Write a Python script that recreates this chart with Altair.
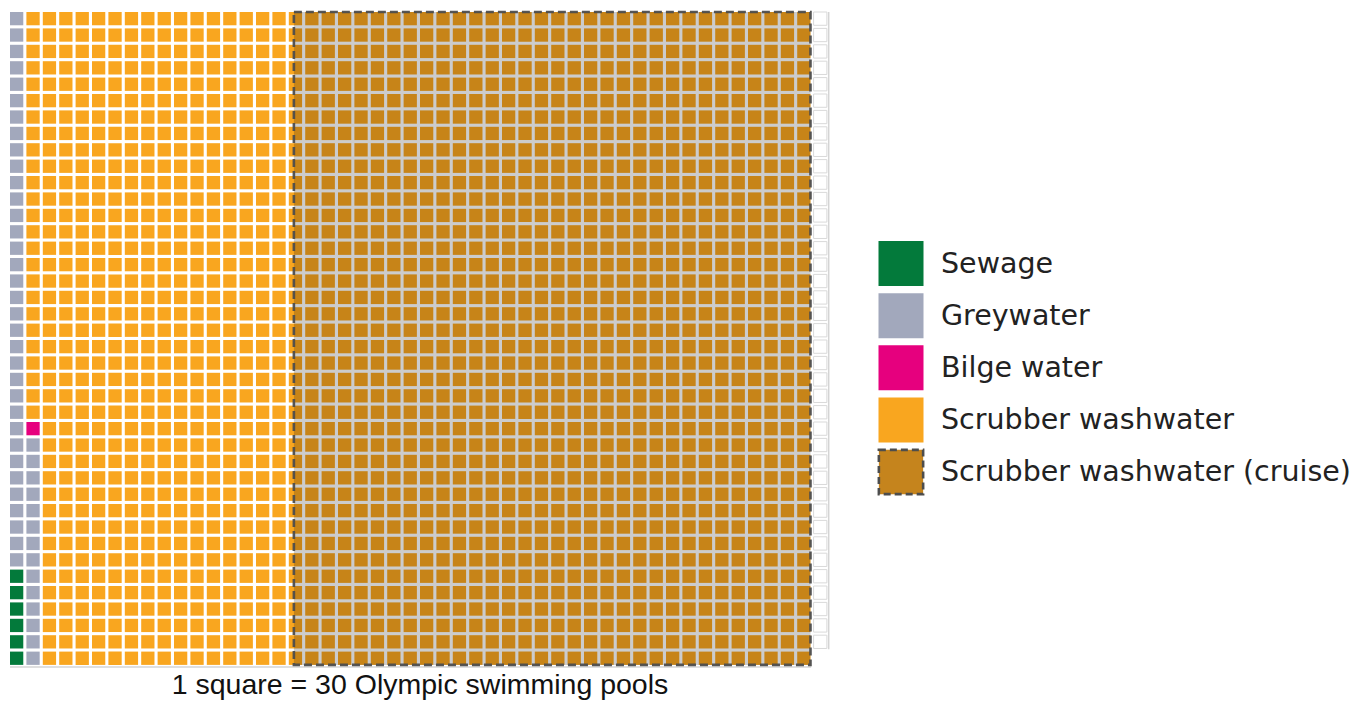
import altair as alt
import pandas as pd

# Waffle categories in fill order (column by column, from the bottom-left cell upward)
categories = ["Sewage", "Greywater", "Bilge water", "Scrubber washwater"]
squares = [6, 48, 1, 1905]
colors = ["#037a3b", "#a2a8bc", "#e6007e", "#f9a61f"]

# Share of the scrubber washwater that comes from cruise ships
cruise_label = "Scrubber washwater (cruise)"
cruise_squares = 1260
cruise_color = "#c5841d"

# Unused cells left in the last column
blank_squares = 39

n_rows = 40
n_cols = 50
caption = "1 square = 30 Olympic swimming pools"

CELL = 0.81  # fraction of a grid step covered by a square
STEP = 16.4  # pixels per grid step

# ---- cell table -----------------------------------------------------------
records = []
i = 0
for cat, n in zip(categories, squares):
    for _ in range(n):
        col, row = divmod(i, n_rows)
        records.append({"category": cat, "col": col, "row": row})
        i += 1
filled_cols = i // n_rows
for k in range(blank_squares):
    records.append({"category": "blank", "col": filled_cols, "row": n_rows - 1 - k})
cells = pd.DataFrame(records)
cells["col2"] = cells["col"] + CELL
cells["row1"] = cells["row"] + (1 - CELL)
cells["row2"] = cells["row"] + 1

right_edge = filled_cols - (1 - CELL)
cruise = pd.DataFrame([{
    "x": right_edge - cruise_squares / n_rows,
    "x2": right_edge,
    "y": 1 - CELL,
    "y2": n_rows,
}])

W = n_cols * STEP
H = n_rows * STEP

xs = alt.Scale(domain=[0, n_cols], nice=False, zero=False)
ys = alt.Scale(domain=[0, n_rows], nice=False, zero=False)

base = alt.Chart(cells)

filled = base.transform_filter(alt.datum.category != "blank").mark_rect().encode(
    x=alt.X("col:Q", scale=xs, axis=None),
    x2="col2:Q",
    y=alt.Y("row1:Q", scale=ys, axis=None),
    y2="row2:Q",
    color=alt.Color("category:N", scale=alt.Scale(domain=categories, range=colors), legend=None),
)

blank = base.transform_filter(alt.datum.category == "blank").mark_rect(
    fill="white", stroke="#d9d9d9", strokeWidth=1
).encode(
    x=alt.X("col:Q", scale=xs, axis=None),
    x2="col2:Q",
    y=alt.Y("row1:Q", scale=ys, axis=None),
    y2="row2:Q",
)

# faint edge lines under the filled block and beside the blank column
edges = pd.DataFrame([
    {"x": 0.0, "x2": right_edge + 0.04, "y": 0.06, "y2": 0.06},
    {"x": n_cols - 0.08, "x2": n_cols - 0.08, "y": 1.15, "y2": n_rows},
])
edge_rules = alt.Chart(edges).mark_rule(color="#d4d4d4", strokeWidth=1.5).encode(
    x=alt.X("x:Q", scale=xs, axis=None), x2="x2:Q",
    y=alt.Y("y:Q", scale=ys, axis=None), y2="y2:Q",
)

cruise_box = alt.Chart(cruise).mark_rect(
    fill="black", fillOpacity=0.2, stroke="#4d4d4d", strokeOpacity=0.95,
    strokeWidth=2.6, strokeDash=[8, 4]
).encode(
    x=alt.X("x:Q", scale=xs, axis=None), x2="x2:Q",
    y=alt.Y("y:Q", scale=ys, axis=None), y2="y2:Q",
)

caption_text = alt.Chart(pd.DataFrame({"text": [caption]})).mark_text(
    font="Liberation Sans", fontSize=28.5, color="#111", align="center", baseline="alphabetic"
).encode(
    x=alt.datum(n_cols / 2, scale=xs),
    y=alt.value(H + 26),
    text="text:N",
)

waffle = alt.layer(filled, blank, edge_rules, cruise_box, caption_text).properties(width=W, height=H)

# ---- legend panel ---------------------------------------------------------
labels = categories + [cruise_label]
legend_df = pd.DataFrame({"label": labels, "color": colors + [cruise_color]})
ly = alt.Y(
    "label:N", sort=labels,
    scale=alt.Scale(type="point", range=[251.5, 460], padding=0),
    axis=None,
)

solid_sw = alt.Chart(legend_df).transform_filter(alt.datum.label != cruise_label).mark_square(
    size=2025, opacity=1
).encode(x=alt.value(51), y=ly, color=alt.Color("color:N", scale=None))

cruise_sw = alt.Chart(legend_df).transform_filter(alt.datum.label == cruise_label).mark_square(
    size=1960, opacity=1, stroke="#4d4d4d", strokeWidth=2.6, strokeDash=[7, 4]
).encode(x=alt.value(51), y=ly, color=alt.Color("color:N", scale=None))

legend_text = alt.Chart(legend_df).mark_text(
    font="DejaVu Sans", fontSize=28.5, color="#222", align="left", baseline="middle"
).encode(x=alt.value(91), y=ly, text="label:N")

legend = alt.layer(solid_sw, cruise_sw, legend_text).properties(width=490, height=H)

chart = alt.hconcat(waffle, legend, spacing=20, bounds="flush").properties(
    padding={"left": 9, "top": 10, "right": 5, "bottom": 5},
).configure_view(stroke=None)

chart.save("out.html", embed_options={"renderer": "svg", "actions": False})
